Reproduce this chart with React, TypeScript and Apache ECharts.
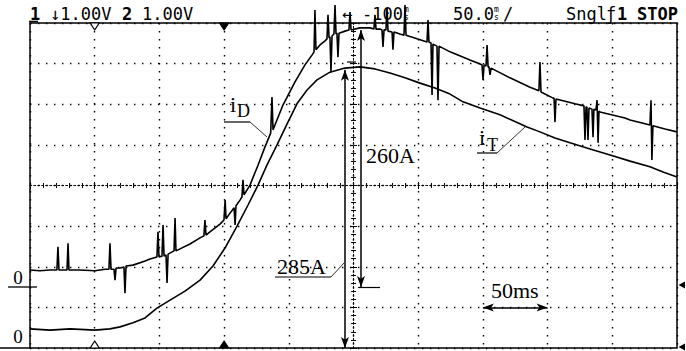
import React, { useEffect, useRef } from "react";
import * as echarts from "echarts";

// time in ms relative to screen centre (50 ms/div), amplitude in divisions (0 = centre line)
const xTicks = { min: -250, max: 250, step: 50 };
const yTicks = { min: -4, max: 4, step: 1 };

// i_T : transistor current (lower, smooth trace)
const iT: [number, number][] = [
  [-250, -3.53], [-234.5, -3.56], [-219.1, -3.53], [-199.8, -3.56], [-188.2, -3.53], [-180.4, -3.48],
  [-170.4, -3.38], [-161.1, -3.26], [-151.9, -3.02], [-141.8, -2.82], [-130.2, -2.6], [-118.6, -2.33],
  [-108.6, -1.98], [-99.3, -1.54], [-90.0, -1.0], [-81.5, -0.48], [-73.8, 0.01], [-66.9, 0.5],
  [-59.1, 1.0], [-51.4, 1.51], [-43.7, 2.01], [-35.9, 2.35], [-28.2, 2.6], [-18.2, 2.79], [-6.6, 2.89],
  [5.0, 2.92], [16.6, 2.87], [28.2, 2.77], [39.8, 2.65], [51.4, 2.52], [63.0, 2.4], [74.6, 2.25],
  [84.6, 2.06], [97.8, 1.91], [113.2, 1.74], [134.1, 1.44], [144.1, 1.32], [155.7, 1.17], [167.3, 1.05],
  [182.8, 0.9], [198.3, 0.75], [213.7, 0.6], [229.1, 0.46], [239.2, 0.33], [250, 0.21],
];

// i_D : diode current (upper, noisy trace with spikes)
const iD: [number, number][] = [
  [-250, -2.08], [-242.3, -2.1], [-234.5, -2.08],
  [-229.2, -2.08], [-228.4, -1.51], [-227.6, -2.08],
  [-221.4, -2.08], [-220.6, -1.42], [-219.9, -2.08],
  [-211.4, -2.08], [-199.8, -2.1], [-191.9, -2.06],
  [-189.0, -2.06], [-188.2, -1.42], [-187.4, -2.06],
  [-185.1, -2.06], [-184.3, -2.33], [-183.5, -2.03],
  [-180.4, -2.03],
  [-177.4, -2.01], [-176.6, -2.65], [-175.8, -1.98],
  [-170.4, -1.96], [-161.1, -1.86], [-157.3, -1.81],
  [-151.9, -1.76], [-151.1, -1.14], [-150.3, -1.76],
  [-148.0, -1.74], [-147.2, -0.97], [-146.4, -1.74],
  [-144.9, -1.71], [-144.1, -2.4], [-143.3, -1.69],
  [-138.7, -1.61], [-137.9, -0.8], [-137.2, -1.61],
  [-134.1, -1.56], [-126.4, -1.44], [-118.6, -1.29],
  [-115.6, -1.24], [-114.8, -0.85], [-114.0, -1.22],
  [-110.9, -1.14], [-103.2, -0.95],
  [-100.1, -0.85], [-99.2, -0.36], [-98.5, -0.82],
  [-95.4, -0.68],
  [-92.3, -0.55], [-91.5, -0.97], [-90.8, -0.5],
  [-87.7, -0.36],
  [-86.2, -0.28], [-85.4, 0.14], [-84.6, -0.23],
  [-80.0, 0.01], [-73.8, 0.5], [-68.4, 0.95],
  [-64.0, 1.29], [-63.0, 2.18], [-62.2, 1.37],
  [-60.7, 1.49], [-54.5, 1.98], [-45.2, 2.55], [-37.5, 2.97], [-32.1, 3.21],
  [-30.5, 3.29], [-29.8, 4.32], [-29.0, 3.34],
  [-25.9, 3.46], [-22.0, 3.56],
  [-20.5, 3.61], [-19.7, 4.2], [-18.9, 3.63],
  [-18.2, 3.66], [-17.4, 2.79], [-16.6, 3.68],
  [-15.1, 3.73], [-14.3, 4.44], [-13.5, 3.73],
  [-12.8, 3.75], [-12.0, 3.16], [-11.2, 3.75],
  [-6.6, 3.8],
  [-3.5, 3.83], [-2.7, 4.27], [-1.9, 3.83],
  [5.0, 3.88], [12.8, 3.88],
  [15.8, 3.85], [16.6, 4.2], [17.4, 3.85],
  [20.5, 3.85],
  [22.0, 3.83], [22.8, 3.41], [23.6, 3.83],
  [25.1, 3.83], [25.9, 4.37], [26.7, 3.8],
  [29.8, 3.78], [30.5, 3.34], [31.3, 3.78],
  [35.9, 3.73],
  [39.0, 3.7], [39.8, 4.44], [40.6, 3.7],
  [49.1, 3.61],
  [56.8, 3.53], [57.6, 4.07], [58.3, 3.53],
  [59.9, 3.51], [60.7, 2.23], [61.4, 3.48],
  [64.5, 3.43], [65.3, 2.1], [66.1, 3.43],
  [74.6, 3.29], [90.0, 3.09],
  [99.3, 2.97], [100.1, 2.6], [100.9, 2.97],
  [102.4, 2.94], [103.2, 3.46], [104.0, 2.92],
  [104.7, 2.92], [105.5, 2.72], [106.3, 2.89],
  [120.9, 2.65], [136.4, 2.42],
  [143.3, 2.33], [144.1, 3.04], [144.9, 2.3],
  [154.2, 2.15],
  [155.0, 2.15], [155.7, 1.56], [156.5, 2.13],
  [171.2, 2.01],
  [178.1, 1.96], [178.9, 1.12], [179.7, 1.93],
  [180.4, 1.93], [181.2, 1.12], [182.0, 1.91],
  [184.3, 1.88], [185.1, 1.19], [185.8, 1.88],
  [187.4, 1.86], [188.2, 2.1], [189.0, 1.05], [189.7, 1.83],
  [190.5, 1.81], [209.8, 1.66], [213.7, 1.61],
  [229.1, 1.49], [229.9, 2.1], [230.6, 0.63], [231.4, 1.47],
  [240.7, 1.39], [250, 1.32],
];

// measurement arrows (data coordinates)
const arrow285A: [number, number][] = [[-6.6, -4], [-6.6, 2.85]];
const arrow260A: [number, number][] = [[5.8, 3.83], [5.8, -2.5]];
const ref260A: [number, number][] = [[3.5, -2.5], [20.5, -2.5]];
const arrow50ms: [number, number][] = [[100, -3], [150, -3]];
const markerTimes = { hollow: -200, filled: -100 };

const BLACK = "#000";
const MONO = "'DejaVu Sans Mono', monospace";
const SERIF = "'Liberation Serif', 'DejaVu Serif', serif";

function axisCommon(min: number, max: number, step: number, position: string, splitLine: boolean) {
  return {
    type: "value",
    min,
    max,
    interval: step,
    position,
    axisLine: {
      show: true,
      onZero: true,
      onZeroAxisIndex: 0,
      lineStyle: { color: BLACK, width: 1, type: [1.5, 2.5] },
    },
    axisTick: { show: true, length: 3.5, lineStyle: { color: BLACK, width: 1 } },
    minorTick: { show: true, splitNumber: 5, length: 2.5, lineStyle: { color: BLACK, width: 1 } },
    axisLabel: { show: false },
    splitLine: {
      show: splitLine,
      lineStyle: { color: BLACK, width: 1.4, type: [1.4, 6.6] },
    },
    minorSplitLine: { show: false },
  };
}

export default function App() {
  const ref = useRef<HTMLDivElement>(null);
  useEffect(() => {
    if (!ref.current) return;
    const chart = echarts.init(ref.current, undefined, { renderer: "svg" });
    const line = (name: string, data: [number, number][]) => ({
      name,
      type: "line",
      data,
      symbol: "none",
      showSymbol: false,
      clip: false,
      z: 3,
      lineStyle: { color: BLACK, width: 1.6 },
    });
    const arrowLine = (pts: [number, number][]) => [{ coord: pts[0] }, { coord: pts[1] }];
    const option: any = {
      animation: false,
      backgroundColor: "#fff",
      grid: {
        left: 30,
        top: 23,
        width: 647,
        height: 325,
        show: true,
        borderColor: BLACK,
        borderWidth: 1.5,
        backgroundColor: "transparent",
      },
      xAxis: [
        axisCommon(xTicks.min, xTicks.max, xTicks.step, "bottom", true),
        axisCommon(xTicks.min, xTicks.max, xTicks.step, "top", false),
      ],
      yAxis: [
        axisCommon(yTicks.min, yTicks.max, yTicks.step, "left", true),
        axisCommon(yTicks.min, yTicks.max, yTicks.step, "right", false),
      ],
      series: [
        {
          ...line("iT", iT),
          markLine: {
            silent: true,
            symbol: ["arrow", "arrow"],
            symbolSize: [6, 11],
            label: { show: false },
            lineStyle: { color: BLACK, width: 1.5, type: "solid" },
            data: [arrowLine(arrow285A), arrowLine(arrow260A), arrowLine(arrow50ms)],
          },
        },
        {
          ...line("iD", iD),
          markLine: {
            silent: true,
            symbol: ["none", "none"],
            label: { show: false },
            lineStyle: { color: BLACK, width: 1.2, type: "solid" },
            data: [arrowLine(ref260A)],
          },
        },
      ],
    };
    chart.setOption(option);

    const px = (t: number, d: number) => chart.convertToPixel({ gridIndex: 0 }, [t, d]) as number[];
    const top = px(0, 4)[1];
    const bottom = px(0, -4)[1];
    const right = px(250, 0)[0];
    const tri = (t: number, up: boolean, filled: boolean) => {
      const x = px(t, 0)[0];
      const y0 = up ? bottom : top;
      const y1 = up ? bottom - 7 : top + 7;
      return {
        type: "polygon",
        shape: { points: [[x - 4.5, y0], [x + 4.5, y0], [x, y1]] },
        style: { fill: filled ? BLACK : "#fff", stroke: BLACK, lineWidth: 1.2 },
        z: 10,
      };
    };
    const txt = (text: string, x: number, y: number, size: number, family: string, weight = "normal", align = "left", extra: any = {}) => ({
      type: "text",
      x,
      y,
      style: { text, fontSize: size, fontFamily: family, fontWeight: weight, fill: BLACK, align, verticalAlign: "middle", ...extra },
      z: 20,
    });
    const seg = (x1: number, y1: number, x2: number, y2: number, w = 1.2) => ({
      type: "line",
      shape: { x1, y1, x2, y2 },
      style: { stroke: BLACK, lineWidth: w },
      z: 20,
    });
    const rightArrow = (y: number) => ({
      type: "polygon",
      shape: { points: [[right + 1.5, y], [right + 8, y - 3.5], [right + 8, y + 3.5]] },
      style: { fill: BLACK },
      z: 20,
    });

    chart.setOption({
      graphic: [
        // header
        txt("1", 30, 14, 17, MONO, "bold"),
        seg(29, 21.5, 38, 21.5, 1.5),
        txt("↓1.00V", 50, 14, 17, MONO),
        txt("2", 122, 14, 17, MONO, "bold"),
        txt("1.00V", 142, 14, 17, MONO),
        txt("←", 342, 14, 17, MONO),
        txt("-100", 362, 14, 17, MONO),
        txt("m\ns", 404, 13, 8, MONO, "normal", "left", { lineHeight: 8 }),
        txt("50.0", 453, 14, 17, MONO),
        txt("m\ns", 494, 13, 8, MONO, "normal", "left", { lineHeight: 8 }),
        txt("/", 503, 14, 17, MONO),
        txt("Sngl", 566, 14, 17, MONO),
        txt("ƒ", 606, 14, 17, MONO),
        txt("1", 617, 14, 17, MONO, "bold"),
        txt("STOP", 637, 14, 17, MONO, "bold"),
        // ground references
        txt("0", 18, 277.5, 19, SERIF, "normal", "center"),
        seg(8, 287, 37, 287, 1.3),
        txt("0", 18, 336.5, 19, SERIF, "normal", "center"),
        seg(0, bottom, 30, bottom, 1.5),
        rightArrow(285),
        rightArrow(347),
        // trigger / position markers
        tri(markerTimes.hollow, false, false),
        tri(markerTimes.filled, false, true),
        tri(markerTimes.hollow, true, false),
        tri(markerTimes.filled, true, true),
        // small cap at top of 285A arrow
        seg(347, 62, 356, 62, 1.2),
        // annotations
        txt("i", 230, 104, 22, SERIF),
        txt("D", 237, 111, 18, SERIF),
        seg(224, 122, 250, 122),
        seg(250, 122, 267, 137, 0.8),
        txt("i", 479, 137, 22, SERIF),
        txt("T", 487, 144.5, 18, SERIF),
        seg(477, 153, 497, 153),
        seg(497, 153, 525, 127, 0.8),
        txt("260A", 366, 155.5, 22, SERIF),
        txt("285A", 277, 266.5, 22, SERIF),
        seg(275, 277, 331, 277),
        seg(331, 277, 344, 263, 0.8),
        txt("50ms", 491, 290, 22, SERIF),
      ],
    });
    return () => chart.dispose();
  }, []);
  return (
    <div
      ref={ref}
      style={{ position: "fixed", left: 0, top: 0, width: 686, height: 351, background: "#fff" }}
    />
  );
}
